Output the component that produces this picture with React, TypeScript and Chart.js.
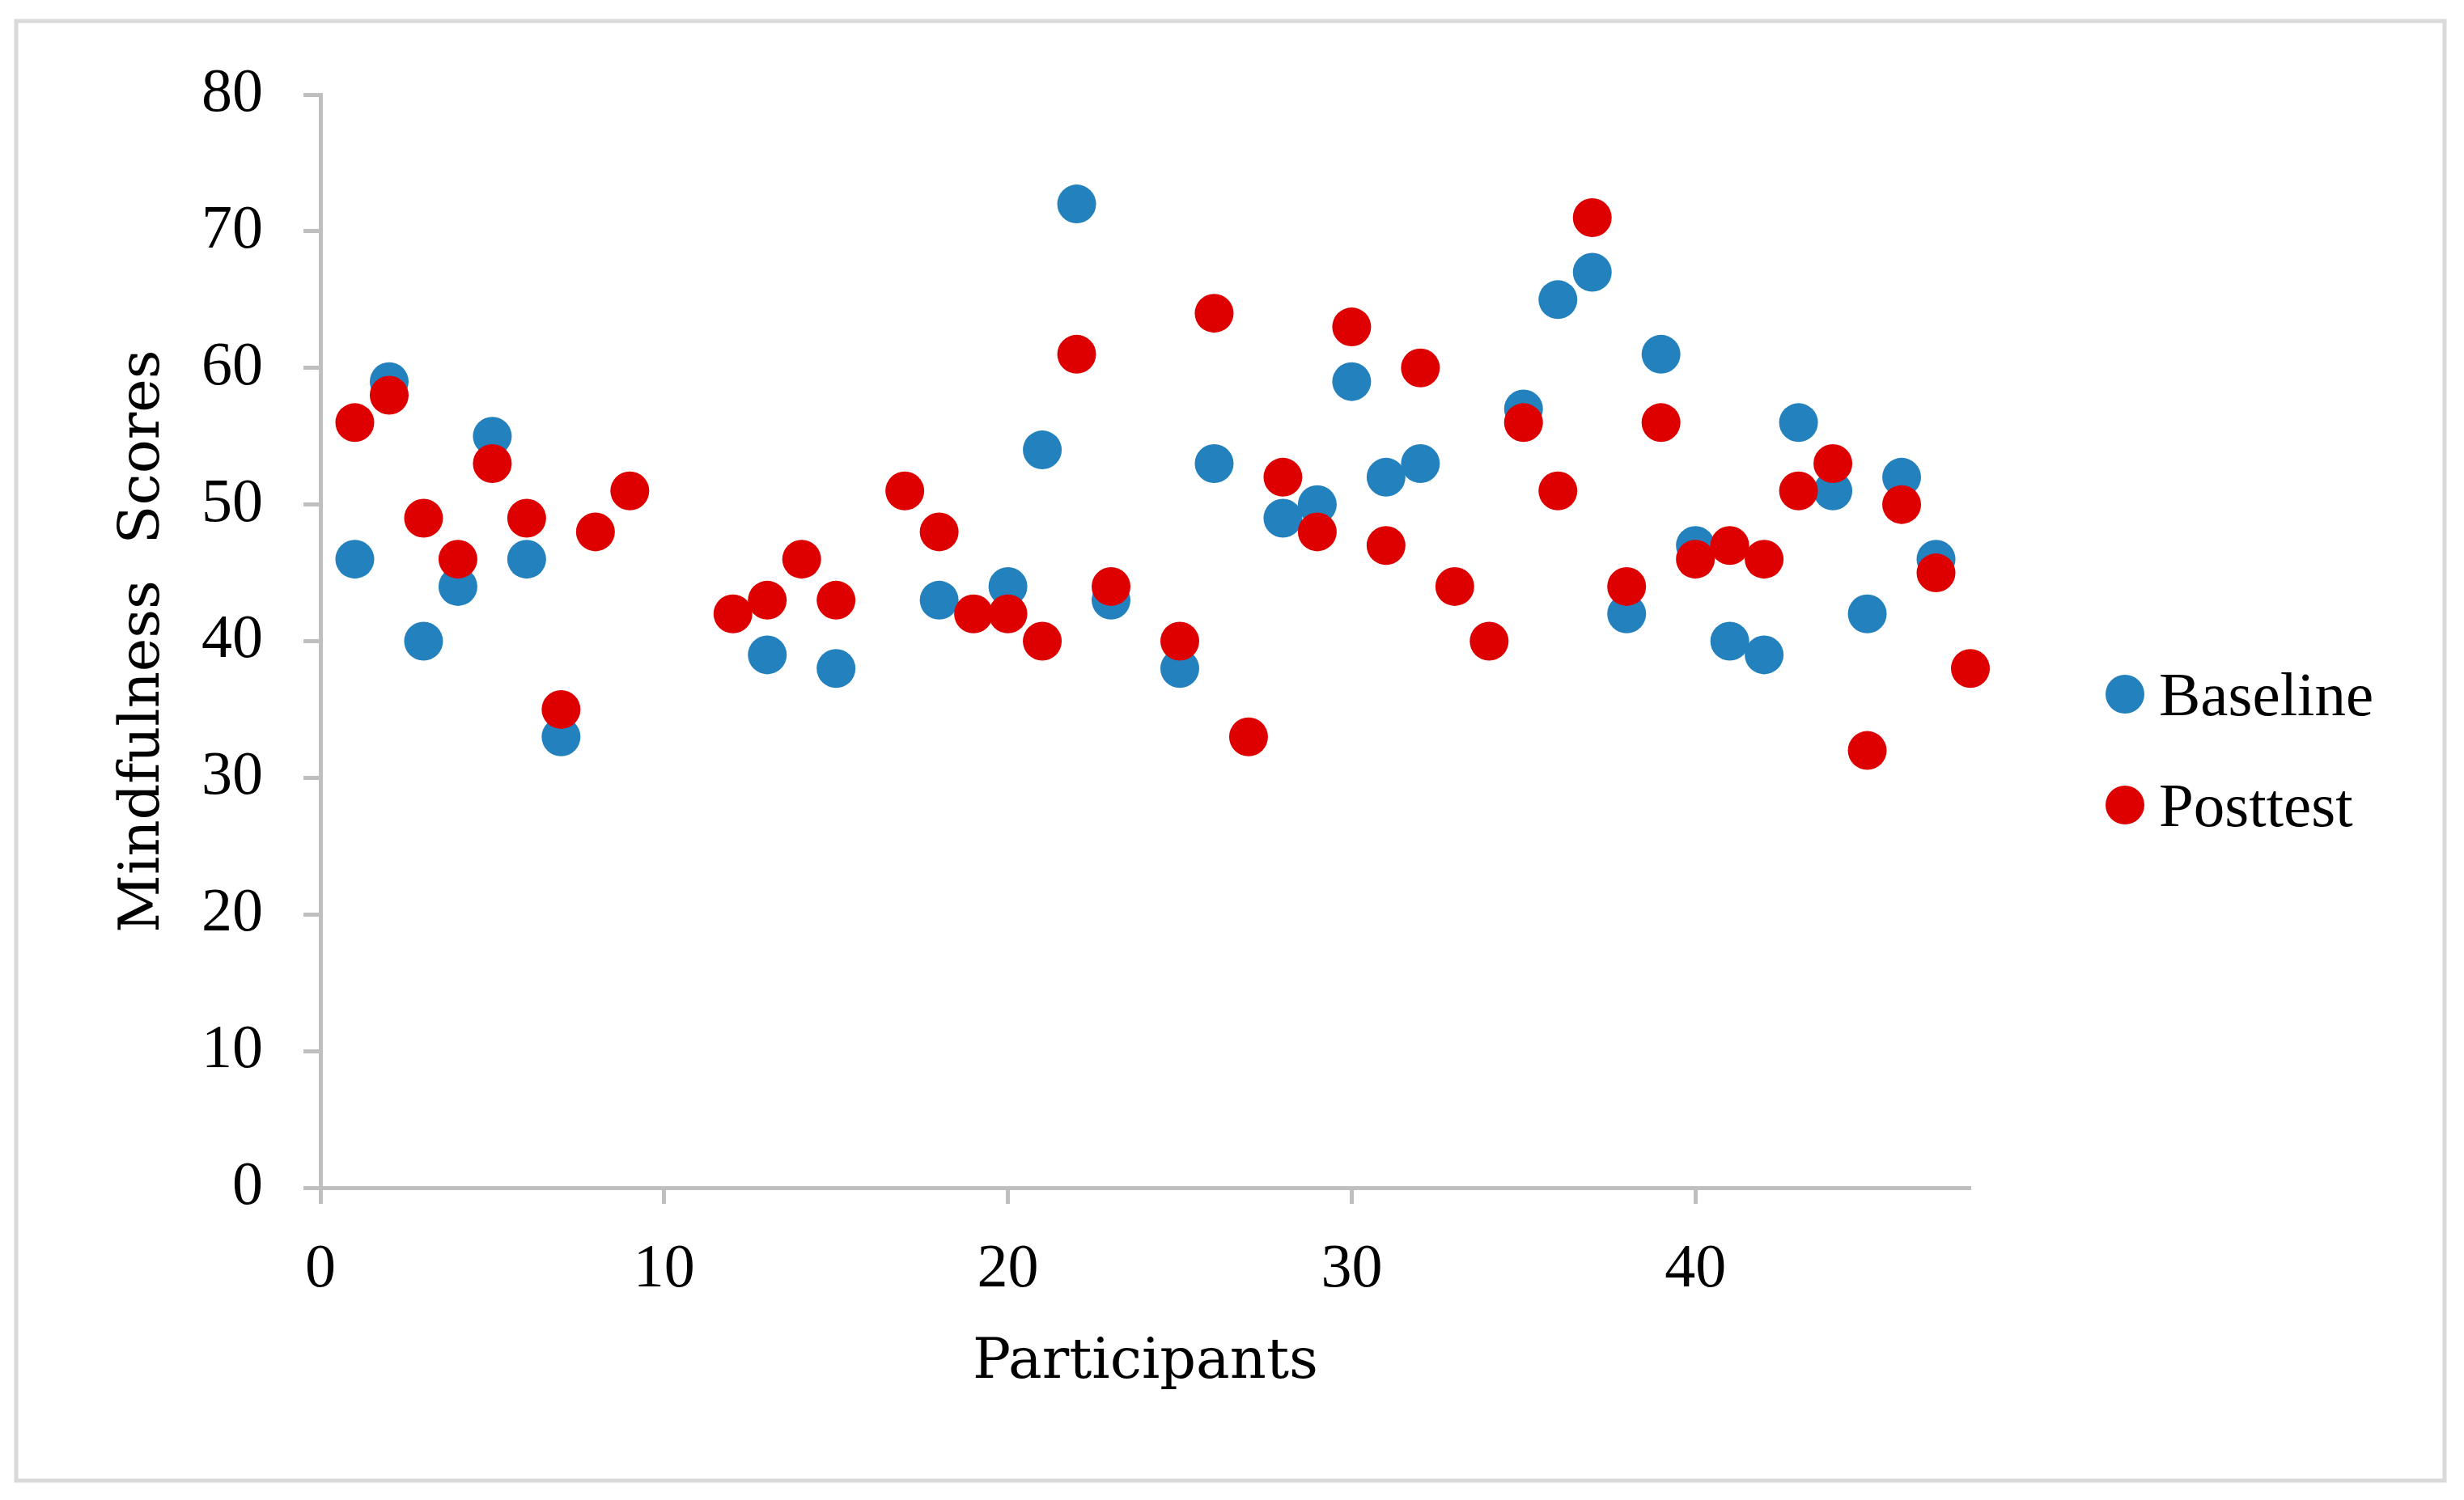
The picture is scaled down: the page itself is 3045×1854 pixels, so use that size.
// App.tsx
import { useEffect, useRef } from 'react';
import { Chart, ScatterController, PointElement, LinearScale, Plugin } from 'chart.js';

Chart.register(ScatterController, PointElement, LinearScale);

// Participants (x) and scores (y)
const baselineX = [1, 2, 3, 4, 5, 6, 7, 13, 15, 18, 20, 21, 22, 23, 25, 26, 28, 29, 30, 31, 32, 35, 36, 37, 38, 39, 40, 41, 42, 43, 44, 45, 46, 47];
const baselineY = [46, 59, 40, 44, 55, 46, 33, 39, 38, 43, 44, 54, 72, 43, 38, 53, 49, 50, 59, 52, 53, 57, 65, 67, 42, 61, 47, 40, 39, 56, 51, 42, 52, 46];
const posttestX = [1, 2, 3, 4, 5, 6, 7, 8, 9, 12, 13, 14, 15, 17, 18, 19, 20, 21, 22, 23, 25, 26, 27, 28, 29, 30, 31, 32, 33, 34, 35, 36, 37, 38, 39, 40, 41, 42, 43, 44, 45, 46, 47, 48];
const posttestY = [56, 58, 49, 46, 53, 49, 35, 48, 51, 42, 43, 46, 43, 51, 48, 42, 42, 40, 61, 44, 40, 64, 33, 52, 48, 63, 47, 60, 44, 40, 56, 51, 71, 44, 56, 46, 47, 46, 51, 53, 32, 50, 45, 38];

const seriesNames = ['Baseline', 'Posttest'];
const seriesColors = ['#2381be', '#de0000'];

const toPoints = (xs: number[], ys: number[]) => xs.map((x, i) => ({ x, y: ys[i] }));

const TICK_FONT = '"Liberation Serif"';
const TITLE_FONT = '"DejaVu Serif"';

// white page + light grey frame around the whole figure
const framePlugin: Plugin<'scatter'> = {
    id: 'frame',
    beforeDraw: (chart) => {
        const { ctx, width, height } = chart;
        ctx.save();
        ctx.fillStyle = '#fff';
        ctx.fillRect(0, 0, width, height);
        ctx.strokeStyle = '#d9d9d9';
        ctx.lineWidth = 5;
        ctx.strokeRect(20, 26, 3001, 1804);
        ctx.restore();
    },
};

// legend on the right, drawn from the series names/colours
const legendPlugin: Plugin<'scatter'> = {
    id: 'sideLegend',
    afterDraw: (chart) => {
        const { ctx } = chart;
        ctx.save();
        ctx.font = `77px ${TICK_FONT}`;
        ctx.textBaseline = 'alphabetic';
        ctx.textAlign = 'left';
        seriesNames.forEach((name, i) => {
            const cy = 858 + i * 137;
            ctx.fillStyle = seriesColors[i];
            ctx.beginPath();
            ctx.arc(2626, cy, 24, 0, Math.PI * 2);
            ctx.fill();
            ctx.fillStyle = '#000';
            ctx.fillText(name, 2668, cy + 26);
        });
        ctx.restore();
    },
};

const App = () => {
    const canvasRef = useRef<HTMLCanvasElement | null>(null);
    const chartInstance = useRef<Chart<'scatter'> | null>(null);

    useEffect(() => {
        if (!canvasRef.current) return;
        if (chartInstance.current) chartInstance.current.destroy();

        chartInstance.current = new Chart(canvasRef.current, {
            type: 'scatter',
            data: {
                datasets: [
                    {
                        label: seriesNames[0],
                        data: toPoints(baselineX, baselineY),
                        backgroundColor: seriesColors[0],
                        borderWidth: 0,
                        pointRadius: 24,
                        pointHoverRadius: 24,
                        clip: false,
                        order: 1,
                    },
                    {
                        label: seriesNames[1],
                        data: toPoints(posttestX, posttestY),
                        backgroundColor: seriesColors[1],
                        borderWidth: 0,
                        pointRadius: 24,
                        pointHoverRadius: 24,
                        clip: false,
                        order: 0, // red drawn on top
                    },
                ],
            },
            options: {
                animation: false,
                responsive: true,
                maintainAspectRatio: false,
                events: [],
                layout: { padding: { left: 0, top: 117, right: 610, bottom: 0 } },
                scales: {
                    x: {
                        type: 'linear',
                        position: 'bottom',
                        min: 0,
                        max: 48,
                        ticks: {
                            stepSize: 10,
                            includeBounds: false,
                            padding: 36,
                            color: '#000',
                            font: { family: TICK_FONT, size: 76 },
                        },
                        grid: {
                            drawOnChartArea: false,
                            drawTicks: true,
                            tickLength: 20,
                            tickWidth: 5,
                            color: '#bfbfbf',
                        },
                        border: { color: '#bfbfbf', width: 5 },
                        title: {
                            display: true,
                            text: 'Participants',
                            color: '#000',
                            font: { family: TITLE_FONT, size: 70 },
                            padding: { top: 0, bottom: 127 },
                        },
                        afterFit: (scale) => {
                            scale.height = 386;
                        },
                    },
                    y: {
                        type: 'linear',
                        min: 0,
                        max: 80,
                        ticks: {
                            stepSize: 10,
                            padding: 50,
                            color: '#000',
                            font: { family: TICK_FONT, size: 76 },
                        },
                        grid: {
                            drawOnChartArea: false,
                            drawTicks: true,
                            tickLength: 21,
                            tickWidth: 5,
                            color: '#bfbfbf',
                        },
                        border: { color: '#bfbfbf', width: 5 },
                        title: {
                            display: true,
                            text: 'Mindfulness  Scores',
                            color: '#000',
                            font: { family: TITLE_FONT, size: 70 },
                            padding: { top: 136, bottom: 0 },
                        },
                        afterFit: (scale) => {
                            scale.width = 396;
                        },
                    },
                },
                plugins: {
                    legend: { display: false },
                },
            },
            plugins: [framePlugin, legendPlugin],
        });

        return () => {
            if (chartInstance.current) {
                chartInstance.current.destroy();
                chartInstance.current = null;
            }
        };
    }, []);

    return (
        <div style={{ position: 'fixed', inset: 0, background: '#fff' }}>
            <canvas ref={canvasRef} />
        </div>
    );
};

export default App;
